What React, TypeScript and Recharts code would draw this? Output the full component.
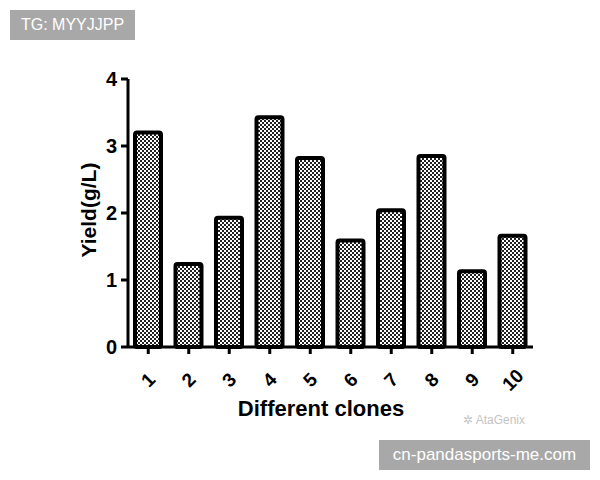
import React from 'react';
import { BarChart, Bar, XAxis, YAxis } from 'recharts';

const clones = ['1', '2', '3', '4', '5', '6', '7', '8', '9', '10'];
const yieldValues = [3.2, 1.24, 1.93, 3.43, 2.82, 1.59, 2.04, 2.85, 1.13, 1.66];
const yTicks = [0, 1, 2, 3, 4];

const data = clones.map((name, i) => ({ name, value: yieldValues[i] }));

const FONT = '"Liberation Sans", Arial, sans-serif';

const XTick = ({ x, y, payload }: any) => (
  <g transform={`translate(${x},${y + 24}) rotate(-45)`}>
    <text textAnchor="middle" dominantBaseline="central" fontSize={19} fontWeight="bold" fontFamily={FONT} fill="#000">
      {payload.value}
    </text>
  </g>
);

const YTick = ({ x, y, payload }: any) => (
  <text x={x - 2} y={y} textAnchor="end" dominantBaseline="central" fontSize={20} fontWeight="bold" fontFamily={FONT} fill="#000">
    {payload.value}
  </text>
);

export default function App() {
  return (
    <div style={{ position: 'absolute', left: 0, top: 0, width: 600, height: 480, background: '#fff', fontFamily: FONT }}>
      <BarChart width={600} height={480} data={data} margin={{ top: 79, right: 67, bottom: 73, left: 0 }}>
        <defs>
          <pattern id="checker" width="4" height="4" patternUnits="userSpaceOnUse">
            <rect width="4" height="4" fill="#fff" />
            <rect x="0" y="0" width="2" height="2" fill="#222" />
            <rect x="2" y="2" width="2" height="2" fill="#222" />
          </pattern>
        </defs>
        <XAxis
          dataKey="name"
          height={60}
          interval={0}
          axisLine={{ stroke: '#000', strokeWidth: 3 }}
          tickLine={{ stroke: '#000', strokeWidth: 3 }}
          tickSize={7}
          tick={<XTick />}
        />
        <YAxis
          width={128}
          domain={[0, 4]}
          ticks={yTicks}
          interval={0}
          axisLine={{ stroke: '#000', strokeWidth: 3 }}
          tickLine={{ stroke: '#000', strokeWidth: 3 }}
          tickSize={7}
          tick={<YTick />}
        />
        <Bar
          dataKey="value"
          barSize={26}
          fill="url(#checker)"
          stroke="#000"
          strokeWidth={4}
          radius={2}
          isAnimationActive={false}
        />
        <text x={88} y={210} transform="rotate(-90 88 210)" textAnchor="middle" dominantBaseline="central" fontSize={21} fontWeight="bold" fontFamily={FONT} fill="#000">
          Yield(g/L)
        </text>
        <text x={321} y={408} textAnchor="middle" dominantBaseline="central" fontSize={22} fontWeight="bold" fontFamily={FONT} fill="#000">
          Different clones
        </text>
        <text x={494} y={420} textAnchor="middle" dominantBaseline="central" fontSize={12} fontFamily={FONT} fill="#c4c4c4">
          ✲ AtaGenix
        </text>
      </BarChart>
      <div style={{ position: 'absolute', left: 10, top: 10, width: 125, height: 30, background: '#a8a8a8', color: '#fff', fontSize: 16, lineHeight: '30px', textAlign: 'center', fontFamily: FONT }}>
        TG: MYYJJPP
      </div>
      <div style={{ position: 'absolute', left: 379, top: 440, width: 211, height: 30, background: '#a8a8a8', color: '#fff', fontSize: 17, lineHeight: '30px', textAlign: 'center', fontFamily: FONT }}>
        cn-pandasports-me.com
      </div>
    </div>
  );
}
